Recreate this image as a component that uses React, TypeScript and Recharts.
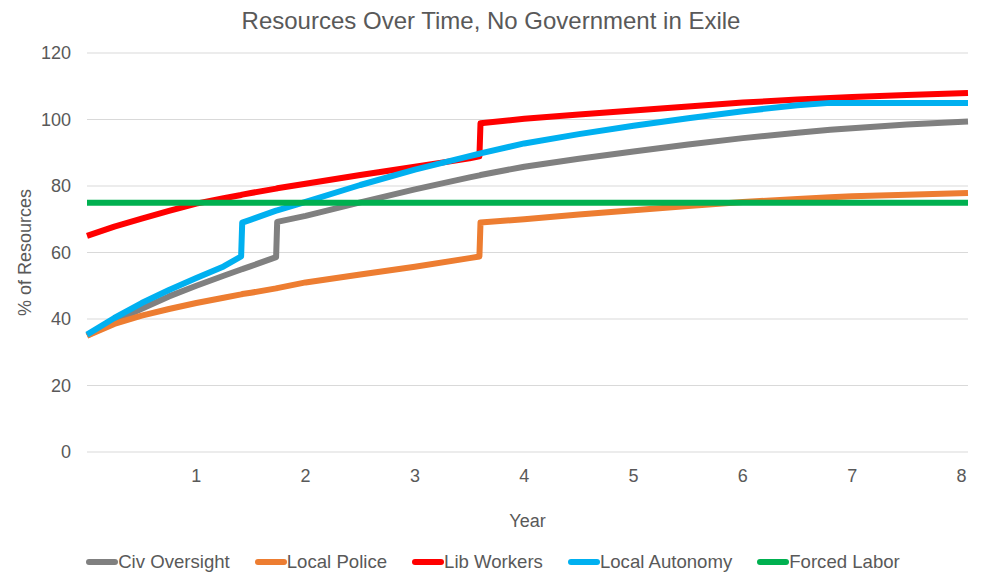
import { CartesianGrid, Label, Legend, Line, LineChart, XAxis, YAxis } from "recharts"

const FONT = '"Liberation Sans", Arial, sans-serif'
const TEXT = "#595959"

// year grid, with a pair of close points wherever a series steps up
const years = [
  0, 0.25, 0.5, 0.75, 1, 1.25, 1.41, 1.42, 1.5, 1.73, 1.74, 2, 2.5, 3, 3.5, 3.59, 3.6,
  4, 4.5, 5, 5.5, 6, 6.5, 6.8, 7, 7.5, 8.06,
]

const civOversight = [
  35, 39.3, 43.1, 46.8, 50.0, 53.0, 54.9, 55.0, 55.9, 58.6, 69.2, 71.0, 75.1, 79.0, 82.6, 83.2, 83.3,
  85.8, 88.2, 90.4, 92.5, 94.4, 96.0, 96.9, 97.4, 98.5, 99.4,
]
const localPolice = [
  35, 38.5, 41.0, 43.0, 44.8, 46.4, 47.4, 47.5, 47.9, 49.2, 49.3, 51.0, 53.4, 55.7, 58.3, 58.8, 69.0,
  70.0, 71.4, 72.7, 74.0, 75.2, 76.1, 76.6, 76.9, 77.4, 77.9,
]
const libWorkers = [
  65, 67.8, 70.2, 72.5, 74.7, 76.3, 77.3, 77.4, 77.9, 79.2, 79.3, 80.7, 83.3, 85.8, 88.3, 88.9, 98.9,
  100.2, 101.5, 102.7, 103.9, 105.1, 106.0, 106.5, 106.8, 107.4, 108.0,
]
const localAutonomy = [
  35.3, 40.3, 44.8, 48.7, 52.3, 55.8, 58.8, 69.0, 69.9, 72.6, 72.7, 75.2, 80.3, 84.9, 89.0, 89.7, 89.8,
  92.8, 95.6, 98.1, 100.4, 102.5, 104.3, 105.0, 105.0, 105.0, 105.0,
]
const forcedLabor = [
  75, 75, 75, 75, 75, 75, 75, 75, 75, 75, 75, 75, 75, 75, 75, 75, 75,
  75, 75, 75, 75, 75, 75, 75, 75, 75, 75,
]

const xTicks = [1, 2, 3, 4, 5, 6, 7, 8]
const yTicks = [0, 20, 40, 60, 80, 100, 120]

const series = [
  { key: "civ", name: "Civ Oversight", color: "#808080", values: civOversight },
  { key: "police", name: "Local Police", color: "#ED7D31", values: localPolice },
  { key: "lib", name: "Lib Workers", color: "#FF0000", values: libWorkers },
  { key: "autonomy", name: "Local Autonomy", color: "#00B0F0", values: localAutonomy },
  { key: "forced", name: "Forced Labor", color: "#00B050", values: forcedLabor },
]

const data = years.map((year, i) => {
  const row: Record<string, number> = { year }
  series.forEach((s) => {
    row[s.key] = s.values[i]
  })
  return row
})

const tickStyle = { fill: TEXT, fontSize: 18, fontFamily: FONT }

function ChartLegend() {
  return (
    <div
      style={{
        display: "flex",
        justifyContent: "center",
        alignItems: "center",
        height: 40,
        fontSize: 18.6,
        color: TEXT,
        fontFamily: FONT,
        paddingLeft: 4,
      }}
    >
      {series.map((s, i) => (
        <div key={s.key} style={{ display: "flex", alignItems: "center", marginLeft: i ? 25 : 0 }}>
          <span
            style={{ display: "inline-block", width: 32, height: 6, borderRadius: 3, background: s.color }}
          />
          <span>{s.name}</span>
        </div>
      ))}
    </div>
  )
}

export default function App() {
  return (
    <div style={{ position: "absolute", left: 0, top: 0, width: 982, height: 582, background: "#fff" }}>
      <div
        style={{
          position: "absolute",
          top: 7,
          left: 0,
          width: 982,
          textAlign: "center",
          fontFamily: FONT,
          fontSize: 24,
          lineHeight: "28px",
          color: TEXT,
        }}
      >
        Resources Over Time, No Government in Exile
      </div>
      <LineChart width={982} height={582} data={data} margin={{ top: 53, right: 14, bottom: 0, left: 0 }}>
        <CartesianGrid vertical={false} stroke="#D9D9D9" strokeWidth={1} />
        <XAxis
          type="number"
          dataKey="year"
          domain={[0, 8.06]}
          ticks={xTicks}
          axisLine={false}
          tickLine={false}
          tickMargin={11}
          height={90}
          tick={tickStyle}
        >
          <Label
            value="Year"
            position="insideBottom"
            offset={15}
            style={{ fill: TEXT, fontSize: 18, fontFamily: FONT }}
          />
        </XAxis>
        <YAxis
          domain={[0, 120]}
          ticks={yTicks}
          axisLine={false}
          tickLine={false}
          tickMargin={10}
          width={87}
          tick={tickStyle}
        >
          <Label
            value="% of Resources"
            angle={-90}
            position="insideLeft"
            offset={25}
            style={{ textAnchor: "middle", fill: TEXT, fontSize: 18, fontFamily: FONT }}
          />
        </YAxis>
        <Legend
          verticalAlign="bottom"
          height={40}
          content={<ChartLegend />}
          wrapperStyle={{ left: 0, width: 982 }}
        />
        {series.map((s) => (
          <Line
            key={s.key}
            type="linear"
            dataKey={s.key}
            name={s.name}
            stroke={s.color}
            strokeWidth={6}
            strokeLinejoin="round"
            dot={false}
            activeDot={false}
            isAnimationActive={false}
          />
        ))}
      </LineChart>
    </div>
  )
}
